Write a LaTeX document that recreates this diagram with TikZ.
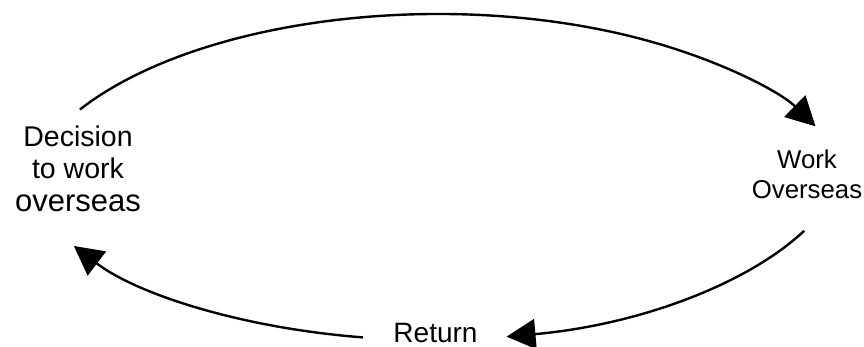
\documentclass[tikz,border=0pt]{standalone}
\usepackage{fontspec}
\setmainfont{Liberation Sans}
\usetikzlibrary{arrows.meta}
\begin{document}
\begin{tikzpicture}[x=1pt,y=1pt,
  cyc/.style={line width=2.4pt,-{Triangle[length=29pt,width=30pt]}},
  lbl/.style={inner sep=0pt,anchor=base}]
\useasboundingbox (0,0) rectangle (864,346);
% labels
\node[lbl] (dec) at (78,200) {\fontsize{28.5}{32.5}\selectfont
  \begin{tabular}[t]{@{}c@{}}Decision\\to work\\{\fontsize{31}{33}\selectfont overseas}\end{tabular}};
\node[lbl] (work) at (807,178) {\fontsize{25.8}{30}\selectfont
  \begin{tabular}[t]{@{}c@{}}Work\\Overseas\end{tabular}};
\node[lbl] (ret) at (435.5,3.5) {\fontsize{28}{32}\selectfont Return};
% arc end points
\coordinate (topstart) at (79.9,236.5);
\coordinate (rstart) at (804.2,115.2);
\coordinate (lstart) at (362.9,8.6);
% connectors
\draw[cyc] (topstart) arc[start angle=148.5,end angle=26,x radius=420,y radius=200];
\draw[cyc] (rstart) arc[start angle=-27,end angle=-79.5,x radius=420,y radius=200];
\draw[cyc] (lstart) arc[start angle=-99.2,end angle=-148,x radius=420,y radius=200];
\end{tikzpicture}
\end{document}
